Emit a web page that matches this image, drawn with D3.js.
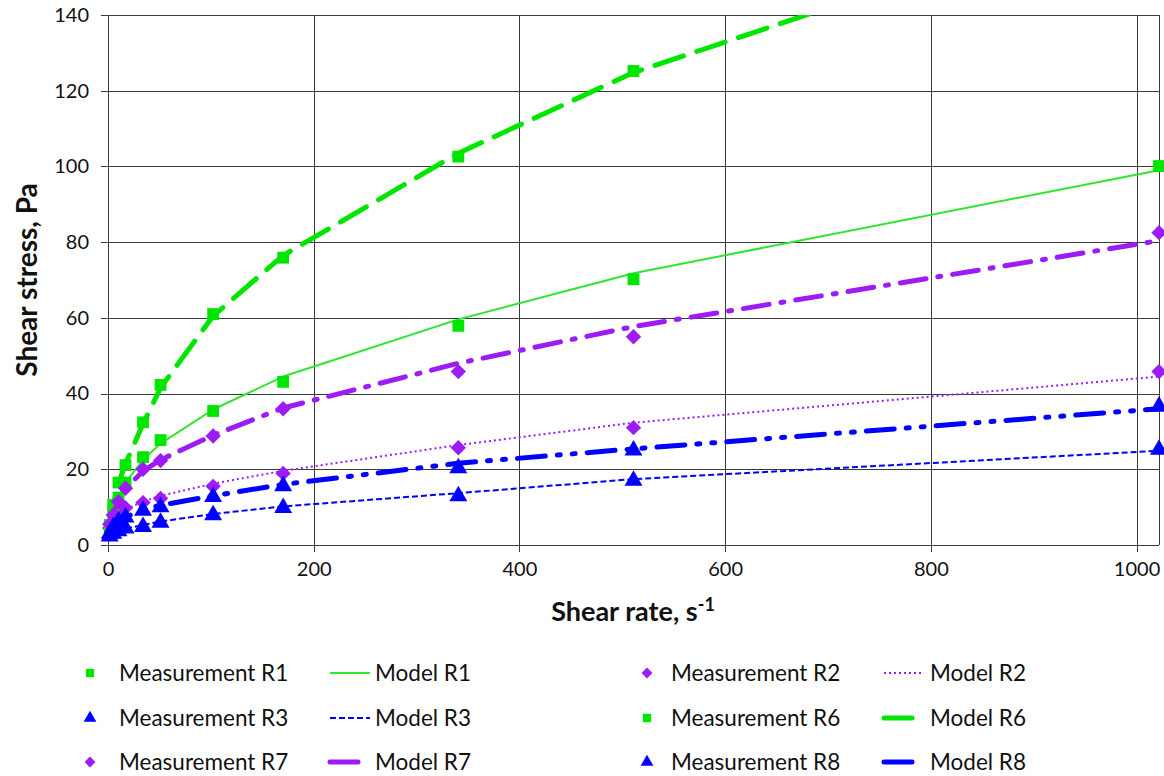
<!DOCTYPE html>
<html>
<head>
<meta charset="utf-8">
<script src="https://cdn.jsdelivr.net/npm/d3@7/dist/d3.min.js"></script>
<style>
  html, body { margin: 0; padding: 0; background: #fff; }
  svg { display: block; font-family: Lato, "Open Sans", sans-serif; }
</style>
</head>
<body>
<svg id="chart" width="1164" height="776"></svg>
<script>
// ---- Data ----
const shearRate = [1.70, 5.11, 10.22, 17.03, 34.06, 51.09, 102.2, 170.3, 340.6, 510.9, 1021.8];

const measR1 = [4.5, 8.5, 12.5, 16.5, 23.2, 27.7, 35.4, 43.1, 57.9, 70.2, 100.1];
const modelR1 = [4.8, 8.8, 12.8, 16.5, 22.5, 26.8, 35.8, 44.5, 59.6, 71.8, 99.0];
const measR2 = [4.5, 6.0, 7.8, 9.8, 11.2, 12.3, 15.5, 18.9, 25.7, 31.0, 45.8];
const modelR2 = [4.6, 6.2, 7.8, 9.4, 11.5, 13.0, 16.2, 19.6, 26.4, 32.3, 44.5];
const measR3 = [2.3, 3.0, 3.7, 4.4, 4.8, 5.9, 7.9, 9.8, 12.9, 17.0, 25.2];
const modelR3 = [2.4, 3.1, 3.7, 4.3, 5.3, 6.2, 8.2, 10.2, 13.7, 17.4, 24.9];
const measR6 = [5.3, 10.6, 16.5, 21.1, 32.4, 42.3, 61.0, 75.9, 102.6, 125.2, 172.0];
const modelR6 = [5.0, 10.5, 16.3, 21.5, 32.0, 41.5, 60.5, 76.5, 103.5, 124.8, 171.0];
const measR7 = [5.5, 7.9, 11.4, 15.0, 20.0, 22.3, 28.8, 36.0, 45.8, 55.0, 82.5];
const modelR7 = [5.5, 8.5, 11.5, 15.0, 19.5, 22.5, 29.0, 36.2, 48.0, 57.7, 80.4];
const measR8 = [3.0, 4.8, 6.3, 7.3, 9.1, 10.0, 12.7, 15.6, 20.3, 25.0, 36.6];
const modelR8 = [3.2, 4.9, 6.2, 7.4, 9.3, 10.5, 13.0, 16.0, 21.6, 25.4, 36.0];

const xTicks = [0, 200, 400, 600, 800, 1000];
const yTicks = [0, 20, 40, 60, 80, 100, 120, 140];

const xTitle = "Shear rate, s";
const xTitleSup = "-1";
const yTitle = "Shear stress, Pa";

// ---- Styles ----
const GREEN = "#00e600", GREEN_LINE = "#2ee62e", PURPLE = "#9d1cf5", BLUE = "#0000ff";

const measurements = [
  { name: "Measurement R1", values: measR1, color: GREEN, symbol: d3.symbolSquare, size: 140 },
  { name: "Measurement R2", values: measR2, color: PURPLE, symbol: d3.symbolDiamond2, size: 150 },
  { name: "Measurement R3", values: measR3, color: BLUE, symbol: d3.symbolTriangle, size: 140 },
  { name: "Measurement R6", values: measR6, color: GREEN, symbol: d3.symbolSquare, size: 140 },
  { name: "Measurement R7", values: measR7, color: PURPLE, symbol: d3.symbolDiamond2, size: 150 },
  { name: "Measurement R8", values: measR8, color: BLUE, symbol: d3.symbolTriangle, size: 140 }
];
const models = [
  { name: "Model R1", values: modelR1, color: GREEN_LINE, width: 2, dash: null, legendLen: 40 },
  { name: "Model R2", values: modelR2, color: PURPLE, width: 2, dash: "2,3", legendLen: 38 },
  { name: "Model R3", values: modelR3, color: BLUE, width: 2, dash: "6,3", legendLen: 40 },
  { name: "Model R6", values: modelR6, color: GREEN, width: 5, dash: "30,14", legendLen: 28 },
  { name: "Model R7", values: modelR7, color: PURPLE, width: 5, dash: "26,12,3,12", legendLen: 28 },
  { name: "Model R8", values: modelR8, color: BLUE, width: 5, dash: "28,12,3,12,3,12", legendLen: 28 }
];

// ---- Layout ----
const svg = d3.select("#chart");
const m = { left: 108, top: 15, right: 1159, bottom: 545 };

const x = d3.scaleLinear().domain([0, 1021.8]).range([m.left, m.right]);
const y = d3.scaleLinear().domain([0, 140]).range([m.bottom, m.top]);

svg.append("defs").append("clipPath").attr("id", "plotclip")
  .append("rect").attr("x", m.left - 8).attr("y", m.top)
  .attr("width", m.right - m.left + 16).attr("height", m.bottom - m.top + 8);

// gridlines
const grid = svg.append("g");
grid.selectAll(".hg").data(yTicks).join("line")
  .attr("x1", m.left - 7).attr("x2", m.right)
  .attr("y1", d => Math.round(y(d)) + 0.5).attr("y2", d => Math.round(y(d)) + 0.5)
  .attr("stroke", "#3a3a3a").attr("stroke-width", 1);
grid.selectAll(".vg").data(xTicks).join("line")
  .attr("y1", m.top).attr("y2", m.bottom + 7)
  .attr("x1", d => Math.round(x(d)) + 0.5).attr("x2", d => Math.round(x(d)) + 0.5)
  .attr("stroke", "#3a3a3a").attr("stroke-width", 1);
// right border
grid.append("line").attr("x1", m.right + 0.5).attr("x2", m.right + 0.5)
  .attr("y1", m.top).attr("y2", m.bottom).attr("stroke", "#3a3a3a");

// axes labels via d3 axes
const xAxis = svg.append("g").attr("transform", `translate(0,${m.bottom})`)
  .call(d3.axisBottom(x).tickValues(xTicks).tickFormat(d3.format("d")).tickSize(0).tickPadding(17));
const yAxis = svg.append("g").attr("transform", `translate(${m.left},0)`)
  .call(d3.axisLeft(y).tickValues(yTicks).tickFormat(d3.format("d")).tickSize(0).tickPadding(19));
[xAxis, yAxis].forEach(a => {
  a.select(".domain").remove();
  a.selectAll("text").attr("font-family", "Lato, sans-serif").attr("font-size", 20).attr("fill", "#111");
});

// axis titles
const xt = svg.append("text").attr("x", 633).attr("y", 621).attr("text-anchor", "middle")
  .attr("font-size", 27).attr("font-weight", "bold").attr("fill", "#111");
xt.append("tspan").text(xTitle);
xt.append("tspan").attr("dy", -10).attr("font-size", 18).text(xTitleSup);

svg.append("text").attr("transform", "translate(37,280) rotate(-90)")
  .attr("text-anchor", "middle").attr("font-size", 28).attr("font-weight", "bold")
  .attr("fill", "#111").text(yTitle);

// series
const plot = svg.append("g").attr("clip-path", "url(#plotclip)");
const line = d3.line().x((d, i) => x(shearRate[i])).y(d => y(d));

[0, 1, 2, 3, 4, 5].forEach(k => {
  const mo = models[k], me = measurements[k];
  plot.append("path").datum(mo.values).attr("d", line)
    .attr("fill", "none").attr("stroke", mo.color).attr("stroke-width", mo.width)
    .attr("stroke-dasharray", mo.dash).attr("stroke-linecap", mo.width > 3 ? "round" : "butt")
    .attr("stroke-linejoin", "round");
  plot.selectAll(null).data(me.values).join("path")
    .attr("d", d3.symbol().type(me.symbol).size(me.size))
    .attr("transform", (d, i) => `translate(${x(shearRate[i])},${y(d)})`)
    .attr("fill", me.color);
});

// legend
const legendRows = [
  [measurements[0], models[0], measurements[1], models[1]],
  [measurements[2], models[2], measurements[3], models[3]],
  [measurements[4], models[4], measurements[5], models[5]]
];
const rowY = [673, 718, 762];
const colX = [{ mk: 90, mt: 119, ls: 330, lt: 375 }, { mk: 647, mt: 671, ls: 884, lt: 930 }];
const lg = svg.append("g");
legendRows.forEach((row, r) => {
  [0, 1].forEach(c => {
    const me = row[c * 2], mo = row[c * 2 + 1], cx = colX[c], cy = rowY[r];
    lg.append("path").attr("d", d3.symbol().type(me.symbol).size(me.size * 0.5))
      .attr("transform", `translate(${cx.mk},${cy})`).attr("fill", me.color);
    lg.append("text").attr("x", cx.mt).attr("y", cy).attr("dy", "0.35em")
      .attr("font-size", 22.5).attr("fill", "#111").text(me.name);
    lg.append("line").attr("x1", cx.ls).attr("x2", cx.ls + mo.legendLen)
      .attr("y1", cy).attr("y2", cy).attr("stroke", mo.color)
      .attr("stroke-width", mo.width).attr("stroke-linecap", mo.width > 3 ? "round" : "butt")
      .attr("stroke-dasharray", mo.width > 3 ? null : mo.dash);
    lg.append("text").attr("x", cx.lt).attr("y", cy).attr("dy", "0.35em")
      .attr("font-size", 22.5).attr("fill", "#111").text(mo.name);
  });
});
</script>
</body>
</html>
